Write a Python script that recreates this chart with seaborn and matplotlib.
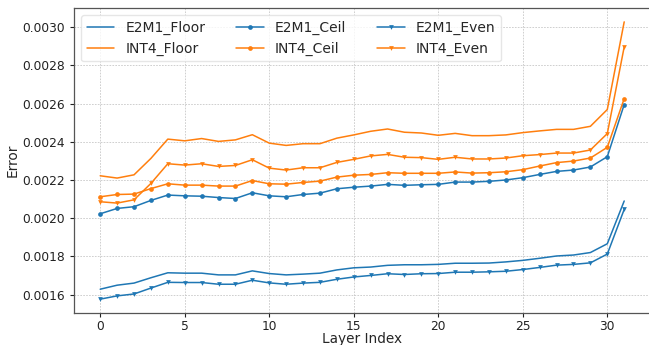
import numpy as np
import pandas as pd
import matplotlib
matplotlib.use("Agg")
import matplotlib.pyplot as plt
import seaborn as sns

layers = list(range(32))

e2m1_floor = [0.001628, 0.001649, 0.001660, 0.001688, 0.001714, 0.001712, 0.001712, 0.001703,
              0.001703, 0.001724, 0.001710, 0.001703, 0.001707, 0.001712, 0.001729, 0.001740,
              0.001744, 0.001753, 0.001756, 0.001756, 0.001758, 0.001764, 0.001764, 0.001765,
              0.001771, 0.001779, 0.001790, 0.001802, 0.001807, 0.001820, 0.001866, 0.002090]
int4_floor = [0.002222, 0.002210, 0.002227, 0.002313, 0.002414, 0.002405, 0.002417, 0.002402,
              0.002410, 0.002437, 0.002393, 0.002381, 0.002390, 0.002390, 0.002419, 0.002436,
              0.002455, 0.002467, 0.002450, 0.002446, 0.002434, 0.002444, 0.002432, 0.002432,
              0.002436, 0.002448, 0.002457, 0.002465, 0.002465, 0.002481, 0.002569, 0.003028]
e2m1_ceil = [0.002023, 0.002051, 0.002060, 0.002093, 0.002121, 0.002117, 0.002115, 0.002108,
             0.002103, 0.002133, 0.002117, 0.002112, 0.002124, 0.002131, 0.002154, 0.002162,
             0.002168, 0.002177, 0.002172, 0.002175, 0.002177, 0.002189, 0.002189, 0.002193,
             0.002200, 0.002212, 0.002229, 0.002245, 0.002252, 0.002268, 0.002322, 0.002595]
int4_ceil = [0.002112, 0.002124, 0.002126, 0.002155, 0.002180, 0.002173, 0.002173, 0.002168,
             0.002168, 0.002197, 0.002180, 0.002178, 0.002187, 0.002194, 0.002215, 0.002225,
             0.002229, 0.002238, 0.002235, 0.002235, 0.002235, 0.002242, 0.002236, 0.002238,
             0.002243, 0.002254, 0.002273, 0.002291, 0.002299, 0.002315, 0.002371, 0.002626]
e2m1_even = [0.001576, 0.001593, 0.001603, 0.001634, 0.001664, 0.001663, 0.001663, 0.001654,
             0.001654, 0.001675, 0.001661, 0.001654, 0.001660, 0.001664, 0.001680, 0.001692,
             0.001700, 0.001709, 0.001705, 0.001709, 0.001710, 0.001717, 0.001717, 0.001719,
             0.001722, 0.001731, 0.001742, 0.001754, 0.001758, 0.001766, 0.001812, 0.002046]
int4_even = [0.002086, 0.002079, 0.002096, 0.002182, 0.002285, 0.002278, 0.002285, 0.002271,
             0.002276, 0.002306, 0.002262, 0.002252, 0.002264, 0.002264, 0.002292, 0.002308,
             0.002326, 0.002334, 0.002319, 0.002317, 0.002308, 0.002319, 0.002310, 0.002310,
             0.002315, 0.002327, 0.002333, 0.002341, 0.002341, 0.002357, 0.002443, 0.002897]

series_names = ["E2M1_Floor", "INT4_Floor", "E2M1_Ceil", "INT4_Ceil", "E2M1_Even", "INT4_Even"]
series_values = [e2m1_floor, int4_floor, e2m1_ceil, int4_ceil, e2m1_even, int4_even]

BLUE = "#1f77b4"
ORANGE = "#ff7f0e"
styles = {
    "E2M1_Floor": dict(color=BLUE, marker=None),
    "INT4_Floor": dict(color=ORANGE, marker=None),
    "E2M1_Ceil": dict(color=BLUE, marker="o"),
    "INT4_Ceil": dict(color=ORANGE, marker="o"),
    "E2M1_Even": dict(color=BLUE, marker="v"),
    "INT4_Even": dict(color=ORANGE, marker="v"),
}

sns.set_style("white")
plt.rcParams["font.family"] = ["DejaVu Sans"]

fig = plt.figure(figsize=(6.49, 3.45), dpi=100)
ax = fig.add_axes([74 / 649, 1 - 313 / 345, (650.4 - 74) / 649, (313 - 8) / 345])

for name, vals in zip(series_names, series_values):
    df = pd.DataFrame({"Layer Index": layers, "Error": vals})
    st = styles[name]
    kw = dict(color=st["color"], linewidth=1.1, label=name)
    if st["marker"] is not None:
        kw.update(marker=st["marker"], markersize=3.4, markeredgewidth=0,
                  markeredgecolor=st["color"])
    sns.lineplot(data=df, x="Layer Index", y="Error", ax=ax, **kw)

ax.grid(True, linestyle=(0, (2, 1.5)), color="#c8c8c8", linewidth=0.6)
ax.set_axisbelow(True)
for s in ax.spines.values():
    s.set_color("#555555")
    s.set_linewidth(0.9)

ax.tick_params(axis="both", labelsize=8.8, colors="#222222", length=3, width=0.8,
               direction="out", left=True, bottom=True)
ax.tick_params(axis="x", pad=2)
for t in ax.get_xticklabels() + ax.get_yticklabels():
    t.set_color("#222222")
ax.yaxis.set_major_formatter(matplotlib.ticker.FormatStrFormatter("%.4f"))
ax.set_xlabel("Layer Index", fontsize=9.8)
ax.xaxis.set_label_coords(0.5, -(343.5 - 313) / 305, transform=ax.transAxes)
ax.xaxis.label.set_va("baseline")
ax.set_ylabel("Error", fontsize=9.8, labelpad=2)

ax.legend(loc="upper left", ncol=3, fontsize=10, frameon=True, framealpha=0.8,
          edgecolor="#e0e0e0", fancybox=True, columnspacing=2.2)

fig.savefig("out.png", dpi=100)
